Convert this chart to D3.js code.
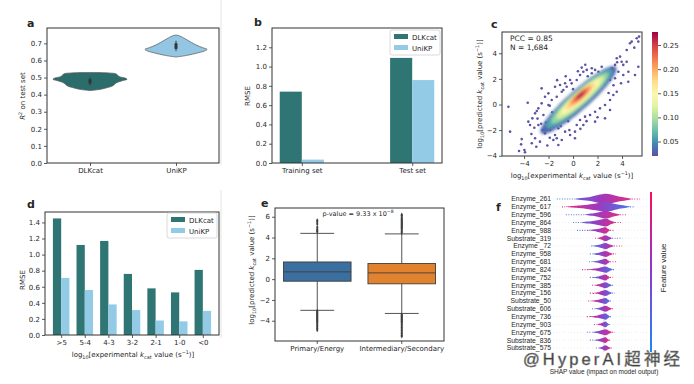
<!DOCTYPE html>
<meta charset="utf-8">
<style>
  body { margin: 0; background: #fff; }
  svg text { font-family: "DejaVu Sans", sans-serif; fill: #262626; }
</style>
<svg id="fig" width="694" height="384"></svg>
<script src="https://cdn.jsdelivr.net/npm/d3@7"></script>
<script>
// ---- panel a : R2 on test set (violins) ----
const modelNames = ["DLKcat", "UniKP"];
const violinDLKcat = [[0.424,0],[0.43,0.25],[0.44,0.45],[0.45,0.6],[0.46,0.66],[0.47,0.72],[0.48,0.85],[0.49,1.0],[0.497,0.95],[0.505,0.8],[0.515,0.74],[0.522,0.7],[0.527,0.5],[0.529,0]];
const violinUniKP = [[0.62,0],[0.63,0.3],[0.645,0.6],[0.658,0.8],[0.665,0.84],[0.675,0.72],[0.69,0.55],[0.705,0.42],[0.72,0.3],[0.735,0.18],[0.745,0.08],[0.749,0]];
const r2Whisker = [[0.455, 0.5], [0.655, 0.715]];
const r2Box = [[0.465, 0.49], [0.668, 0.70]];
const r2Ticks = [0, 0.1, 0.2, 0.3, 0.4, 0.5, 0.6, 0.7];

// ---- panel b : RMSE train / test ----
const splitNames = ["Training set", "Test set"];
const rmseDLKcat = [0.74, 1.09];
const rmseUniKP = [0.035, 0.86];
const rmseTicks = [0, 0.2, 0.4, 0.6, 0.8, 1.0, 1.2];

// ---- panel c : predicted vs experimental (sparse points + density core) ----
const sparsePoints = [
  [-5.28,-0.17],[-5.14,-2.12],[-4.41,-3.63],[-3.97,-3.55],[-3.92,-3.73],[-4.19,-2.7],[-4.24,-3.11],
  [-3.65,-1.34],[-3.7,0.14],[-3.37,-3.03],[-3.1,-2.64],[-3.16,-1.81],[-2.83,-1.6],[-2.96,-0.51],
  [-2.56,1.26],[-2.42,-0.82],[-2.29,-2.25],[-2.01,-0.04],[-1.61,-2.77],[-1.33,-2.64],[-1.2,-3.16],
  [-1.2,-1.86],[-0.92,1.0],[-0.65,1.66],[-0.24,1.91],[0.16,-2.64],[0.71,2.88],[0.84,-1.6],
  [1.53,2.44],[1.8,-1.34],[2.34,2.95],[2.61,-1.08],[3.02,-0.43],[3.43,2.05],[3.57,3.61],
  [3.84,3.74],[3.97,3.34],[4.1,3.09],[3.92,1.66],[4.38,4.26],[4.79,4.91],[5.2,5.17],[5.39,5.3],
  [5.0,4.44],[4.65,4.78],[5.33,4.91],[4.51,1.78],[5.06,2.3],[5.33,2.95],
  [-1.47,1.39],[-1.06,1.52],[-0.79,1.13],[-0.52,1.39],[-0.11,1.65],[0.3,1.91],[0.57,2.3],
  [0.84,2.56],[1.12,2.7],[1.53,2.83],[1.8,2.7],[2.07,2.56],[-1.33,0.61],[-1.74,0.35],
  [-2.01,0.87],[-2.29,0.61],[-2.56,0.09],[-2.83,-0.3],[-3.1,-0.69],[-3.32,-1.08],[-3.51,-1.6],
  [0.3,-1.6],[0.57,-1.21],[0.98,-0.95],[1.39,-0.82],[1.8,-0.56],[2.2,-0.3],[2.61,-0.04],
  [3.02,0.35],[3.29,0.74],[3.57,1.0],[0.16,-2.12],[-0.24,-2.38],[-0.65,-2.12],[-0.92,-2.77],
  [-1.47,-2.38],[-1.88,-1.99],[3.16,2.83],[3.43,3.09],[3.7,2.56],[4.1,2.3],[4.38,3.34],
  [4.52,2.56],[3.02,1.91],[-2.7,-2.9],[-2.2,-1.4],[-1.7,-0.6],[-1.0,-1.7],[-0.4,-1.3],
  [0.0,1.2],[-1.9,-0.1],[1.2,2.2],[2.5,1.6],[2.9,2.2],[-3.4,-2.3],[-2.5,-2.0],[3.6,3.3],
  [-1.3,1.9],[-0.6,2.2],[0.4,2.6],[1.0,3.1],[-2.9,-1.1],[-2.6,-1.5],[-1.9,-2.6],[-0.3,-2.0],
  [1.1,-1.3],[2.0,-1.0],[2.9,0.9],[3.3,1.5],[-2.1,-3.2],[-3.0,-3.3],[0.6,-1.9],[-1.6,-1.1]
];
const densityLevels = [
  {density: 0.03, cx: 0.45, cy: 0.35, halfLen: 4.0, halfWidth: 0.8},
  {density: 0.06, cx: 0.5,  cy: 0.45, halfLen: 3.5, halfWidth: 0.66},
  {density: 0.09, cx: 0.55, cy: 0.5,  halfLen: 3.0, halfWidth: 0.56},
  {density: 0.12, cx: 0.6,  cy: 0.55, halfLen: 2.5, halfWidth: 0.47},
  {density: 0.15, cx: 0.6,  cy: 0.6,  halfLen: 2.0, halfWidth: 0.39},
  {density: 0.18, cx: 0.6,  cy: 0.65, halfLen: 1.55, halfWidth: 0.33},
  {density: 0.21, cx: 0.6,  cy: 0.7,  halfLen: 1.1, halfWidth: 0.27},
  {density: 0.24, cx: 0.6,  cy: 0.72, halfLen: 0.72, halfWidth: 0.2},
  {density: 0.27, cx: 0.6,  cy: 0.74, halfLen: 0.38, halfWidth: 0.12}
];
const densitySlope = 0.84;
const axisTicksC = [-4, -2, 0, 2, 4];
const densityTicks = [0.05, 0.10, 0.15, 0.20, 0.25];

// ---- panel d : RMSE per kcat bin ----
const kcatBins = [">5", "5-4", "4-3", "3-2", "2-1", "1-0", "<0"];
const binRmseDLKcat = [1.45, 1.12, 1.17, 0.76, 0.58, 0.53, 0.81];
const binRmseUniKP = [0.71, 0.56, 0.38, 0.31, 0.18, 0.17, 0.30];
const binTicks = [0, 0.2, 0.4, 0.6, 0.8, 1.0, 1.2, 1.4];

// ---- panel e : boxplots ----
const pathwayNames = ["Primary/Energy", "Intermediary/Secondary"];
const boxQ1 = [-0.2, -0.45];
const boxMedian = [0.7, 0.6];
const boxQ3 = [1.65, 1.5];
const whiskerLow = [-3.0, -3.3];
const whiskerHigh = [4.4, 4.35];
const fliersPrimary = [4.55,4.65,4.8,5.0,5.3,5.5,5.65,-3.05,-3.15,-3.25,-3.35,-3.45,-3.55,-3.65,-3.75,-3.85,-3.95,-4.05,-4.15,-4.3,-4.45,-4.6,-4.75,-4.9];
const fliersSecondary = [4.45,4.6,4.75,4.9,5.0,5.1,5.2,5.3,5.4,5.5,5.6,5.7,5.8,5.95,6.1,6.2,-3.4,-3.5,-3.6,-3.7,-3.8,-3.9,-4.0,-4.1,-4.2,-4.35,-4.5,-4.65,-4.8,-4.95,-5.1,-5.25,-5.4,-5.5];
const boxTicks = [-4, -2, 0, 2, 4, 6];

// ---- panel f : SHAP summary ----
const shapFeatures = ["Enzyme_261","Enzyme_617","Enzyme_596","Enzyme_864","Enzyme_988","Substrate_319","Enzyme _72","Enzyme_958","Enzyme_681","Enzyme_824","Enzyme_752","Enzyme_385","Enzyme_156","Substrate_50","Substrate_606","Enzyme_736","Enzyme_903","Enzyme_675","Substrate_836","Substrate_575"];
const shapMin =       [-1.57,-1.40,-1.27,-1.03,-0.90,-0.30,-0.43,-0.47,-0.50,-0.73,-0.47,-0.40,-0.47,-0.53,-0.40,-0.57,-0.33,-0.57,-0.47,-0.27];
const shapDenseLow =  [-0.97,-1.30,-0.63,-0.80,-0.53,-0.23,-0.40,-0.40,-0.40,-0.53,-0.37,-0.33,-0.37,-0.43,-0.30,-0.47,-0.23,-0.40,-0.33,-0.20];
const shapDenseHigh = [0.93, 0.87, 0.53, 0.37, 0.20, 0.27, 0.33, 0.30, 0.20, 0.30, 0.20, 0.27, 0.27, 0.20, 0.27, 0.20, 0.17, 0.27, 0.17, 0.23];
const shapMax =       [1.20, 1.03, 0.77, 0.60, 0.33, 0.60, 0.60, 0.40, 0.43, 0.37, 0.30, 0.33, 0.37, 0.27, 0.33, 0.27, 0.23, 0.37, 0.23, 0.30];
const shapSpread =    [1.0, 0.9, 0.75, 0.75, 0.62, 0.58, 0.6, 0.58, 0.58, 0.6, 0.58, 0.58, 0.58, 0.58, 0.58, 0.58, 0.55, 0.58, 0.55, 0.52];
const highValueRight = [1,0,1,1,1,0,1,1,1,0,1,0,0,0,1,0,0,1,1,1];

// ---------------------------------------------------------------
const svg = d3.select("#fig");
svg.append("rect").attr("width", 694).attr("height", 384).attr("fill", "#fff");
const defs = svg.append("defs");

const cDLK = "#2e7573", cUni = "#93cbe6";
const ink = "#333";

function styleAxis(g) {
  g.select(".domain").remove();
  g.selectAll(".tick line").attr("stroke", ink).attr("stroke-width", 0.8);
  g.selectAll(".tick text").attr("fill", ink).style("font-size", "7px");
}
function frame(p) {
  svg.append("rect").attr("x", p.l).attr("y", p.t).attr("width", p.r - p.l).attr("height", p.b - p.t)
    .attr("fill", "none").attr("stroke", ink).attr("stroke-width", 1);
}
function letter(t, x, y) {
  svg.append("text").attr("x", x).attr("y", y).text(t)
    .style("font-size", "11px").style("font-weight", "bold").attr("fill", "#111");
}
// rich text with sub / super / italic parts
function rich(sel, parts, size) {
  let shift = 0;
  parts.forEach(([s, kind]) => {
    let target = kind === "sub" ? size * 0.3 : kind === "sup" ? -size * 0.4 : 0;
    const ts = sel.append("tspan").text(s).attr("dy", target - shift);
    if (kind === "sub" || kind === "sup") ts.style("font-size", (size * 0.7) + "px");
    if (kind === "it") ts.style("font-style", "italic");
    shift = target;
  });
}
function kcatParts(word) {
  return [["log"], ["10", "sub"], ["[" + word + " "], ["k", "it"], ["cat", "sub"], [" value (s"], ["−1", "sup"], [")]"]];
}
function yLabel(x, y) {
  return svg.append("text").attr("transform", `translate(${x},${y}) rotate(-90)`)
    .attr("text-anchor", "middle").style("font-size", "7px").attr("fill", ink);
}
function legend(x, y) {
  const g = svg.append("g").attr("transform", `translate(${x},${y})`);
  g.append("rect").attr("width", 50).attr("height", 25).attr("rx", 2)
    .attr("fill", "#fff").attr("stroke", "#d0d0d0").attr("stroke-width", 0.8);
  [["DLKcat", cDLK], ["UniKP", cUni]].forEach(([n, c], i) => {
    g.append("rect").attr("x", 4).attr("y", 4 + i * 11).attr("width", 14).attr("height", 5).attr("fill", c);
    g.append("text").attr("x", 22).attr("y", 9.5 + i * 11).text(n).style("font-size", "7px").attr("fill", ink);
  });
}

// faint sub-image borders
[[221, 0, 165], [221, 190, 338]].forEach(([x, y1, y2]) =>
  svg.append("line").attr("x1", x).attr("x2", x).attr("y1", y1).attr("y2", y2).attr("stroke", "#e4e4e4"));

// ================= panel a =================
{
  const p = {l: 47, r: 219, t: 28, b: 163};
  const x = d3.scalePoint().domain(modelNames).range([p.l, p.r]).padding(0.5);
  const y = d3.scaleLinear().domain([0, 0.79]).range([p.b, p.t]);
  const w = d3.scaleLinear().domain([0, 1]).range([0, 37]);
  [violinDLKcat, violinUniKP].forEach((v, i) => {
    const cx = x(modelNames[i]);
    svg.append("path").datum(v)
      .attr("d", d3.area().y(d => y(d[0])).x0(d => cx - w(d[1])).x1(d => cx + w(d[1])).curve(d3.curveCatmullRom))
      .attr("fill", i ? "#92c6e2" : "#2b6d6b").attr("stroke", "#555").attr("stroke-width", 0.7);
    svg.append("line").attr("x1", cx).attr("x2", cx).attr("y1", y(r2Whisker[i][0])).attr("y2", y(r2Whisker[i][1]))
      .attr("stroke", "#333").attr("stroke-width", 1);
    svg.append("line").attr("x1", cx).attr("x2", cx).attr("y1", y(r2Box[i][0])).attr("y2", y(r2Box[i][1]))
      .attr("stroke", "#333").attr("stroke-width", 3);
  });
  svg.append("g").attr("transform", `translate(${p.l},0)`)
    .call(d3.axisLeft(y).tickValues(r2Ticks).tickSize(3).tickPadding(2).tickFormat(d3.format(".1f"))).call(styleAxis);
  svg.append("g").attr("transform", `translate(0,${p.b})`)
    .call(d3.axisBottom(x).tickSize(3).tickPadding(2)).call(styleAxis);
  frame(p);
  const t = yLabel(25, 96);
  rich(t, [["R", "it"], ["2", "sup"], [" on test set"]], 7);
  letter("a", 27, 27);
}

// ================= panel b =================
{
  const p = {l: 272, r: 442, t: 28, b: 163};
  const x = d3.scaleLinear().domain([-0.27, 1.27]).range([p.l, p.r]);
  const y = d3.scaleLinear().domain([0, 1.4]).range([p.b, p.t]);
  const bw = 0.2;
  splitNames.forEach((s, i) => {
    svg.append("rect").attr("x", x(i - bw)).attr("width", x(bw) - x(0)).attr("y", y(rmseDLKcat[i]))
      .attr("height", y(0) - y(rmseDLKcat[i])).attr("fill", cDLK);
    svg.append("rect").attr("x", x(i)).attr("width", x(bw) - x(0)).attr("y", y(rmseUniKP[i]))
      .attr("height", y(0) - y(rmseUniKP[i])).attr("fill", cUni);
  });
  svg.append("g").attr("transform", `translate(${p.l},0)`)
    .call(d3.axisLeft(y).tickValues(rmseTicks).tickSize(3).tickPadding(2).tickFormat(d3.format(".1f"))).call(styleAxis);
  svg.append("g").attr("transform", `translate(0,${p.b})`)
    .call(d3.axisBottom(x).tickValues([0, 1]).tickSize(3).tickPadding(2).tickFormat(i => splitNames[i])).call(styleAxis);
  frame(p);
  yLabel(250, 96).text("RMSE");
  legend(390, 30);
  letter("b", 254, 26);
}

// ================= panel c =================
{
  const p = {l: 502, r: 642, t: 32, b: 156};
  const x = d3.scaleLinear().domain([-5.8, 5.63]).range([p.l, p.r]);
  const y = d3.scaleLinear().domain([-4.02, 5.66]).range([p.b, p.t]);
  const cscale = d3.scaleLinear().domain([0.02, 0.277]).range([0, 1]);
  const cmap = d => d3.interpolateSpectral(1 - cscale(d));
  defs.append("clipPath").attr("id", "clipc").append("rect")
    .attr("x", p.l).attr("y", p.t).attr("width", p.r - p.l).attr("height", p.b - p.t);
  defs.append("filter").attr("id", "soft").attr("x", "-20%").attr("y", "-20%").attr("width", "140%").attr("height", "140%")
    .append("feGaussianBlur").attr("stdDeviation", 1.4);
  const g = svg.append("g").attr("clip-path", "url(#clipc)");
  g.selectAll("circle").data(sparsePoints).join("circle")
    .attr("cx", d => x(d[0])).attr("cy", d => y(d[1])).attr("r", 1.3).attr("fill", cmap(0.022));
  const ang = Math.atan(densitySlope), ux = Math.cos(ang), uy = Math.sin(ang);
  const core = g.append("g").attr("filter", "url(#soft)");
  densityLevels.forEach(lv => {
    const pts = d3.range(0, 64).map(k => {
      const a = k / 64 * 2 * Math.PI;
      const s = Math.cos(a) * lv.halfLen, q = Math.sin(a) * lv.halfWidth;
      return [x(lv.cx + s * ux - q * uy), y(lv.cy + s * uy + q * ux)];
    });
    core.append("path").attr("d", d3.line().curve(d3.curveCardinalClosed)(pts)).attr("fill", cmap(lv.density));
  });
  svg.append("g").attr("transform", `translate(${p.l},0)`)
    .call(d3.axisLeft(y).tickValues(axisTicksC).tickSize(3).tickPadding(2)).call(styleAxis);
  svg.append("g").attr("transform", `translate(0,${p.b})`)
    .call(d3.axisBottom(x).tickValues(axisTicksC).tickSize(3).tickPadding(2)).call(styleAxis);
  frame(p);
  svg.append("text").attr("x", 510).attr("y", 41).text("PCC = 0.85").style("font-size", "7.5px");
  svg.append("text").attr("x", 510).attr("y", 50).text("N = 1,684").style("font-size", "7.5px");
  rich(yLabel(482, 94), kcatParts("predicted"), 7);
  rich(svg.append("text").attr("x", 572).attr("y", 178).attr("text-anchor", "middle").style("font-size", "7px"),
    kcatParts("experimental"), 7);
  // colour bar
  const cb = {x: 652, w: 6, t: 32, b: 156};
  const grad = defs.append("linearGradient").attr("id", "spec").attr("x1", 0).attr("x2", 0).attr("y1", 1).attr("y2", 0);
  d3.range(0, 1.001, 0.1).forEach(t => grad.append("stop").attr("offset", t).attr("stop-color", d3.interpolateSpectral(1 - t)));
  svg.append("rect").attr("x", cb.x).attr("y", cb.t).attr("width", cb.w).attr("height", cb.b - cb.t).attr("fill", "url(#spec)");
  const cy = d3.scaleLinear().domain([0.02, 0.277]).range([cb.b, cb.t]);
  svg.append("g").attr("transform", `translate(${cb.x + cb.w},0)`)
    .call(d3.axisRight(cy).tickValues(densityTicks).tickSize(3).tickPadding(2).tickFormat(d3.format(".2f"))).call(styleAxis);
  letter("c", 491, 28);
}

// ================= panel d =================
{
  const p = {l: 45, r: 219, t: 212, b: 335};
  const x = d3.scaleLinear().domain([-0.685, 6.685]).range([p.l, p.r]);
  const y = d3.scaleLinear().domain([0, 1.53]).range([p.b, p.t]);
  const bw = 0.35;
  kcatBins.forEach((k, i) => {
    svg.append("rect").attr("x", x(i - bw)).attr("width", x(bw) - x(0)).attr("y", y(binRmseDLKcat[i]))
      .attr("height", y(0) - y(binRmseDLKcat[i])).attr("fill", cDLK);
    svg.append("rect").attr("x", x(i)).attr("width", x(bw) - x(0)).attr("y", y(binRmseUniKP[i]))
      .attr("height", y(0) - y(binRmseUniKP[i])).attr("fill", cUni);
  });
  svg.append("g").attr("transform", `translate(${p.l},0)`)
    .call(d3.axisLeft(y).tickValues(binTicks).tickSize(3).tickPadding(2).tickFormat(d3.format(".1f"))).call(styleAxis);
  svg.append("g").attr("transform", `translate(0,${p.b})`)
    .call(d3.axisBottom(x).tickValues(d3.range(kcatBins.length)).tickSize(3).tickPadding(2).tickFormat(i => kcatBins[i])).call(styleAxis);
  frame(p);
  yLabel(25, 280).text("RMSE");
  rich(svg.append("text").attr("x", 133).attr("y", 357).attr("text-anchor", "middle").style("font-size", "7px"),
    kcatParts("experimental"), 7);
  legend(167, 213);
  letter("d", 27, 208);
}

// ================= panel e =================
{
  const p = {l: 275, r: 444, t: 208, b: 341};
  const x = d3.scaleBand().domain(pathwayNames).range([p.l, p.r]);
  const y = d3.scaleLinear().domain([-5.95, 6.84]).range([p.b, p.t]);
  const bw = x.bandwidth() * 0.8;
  const boxColors = ["#3a6fa0", "#e0822e"];
  const edge = "#3f3f3f";
  [fliersPrimary, fliersSecondary].forEach((fl, i) => {
    const cx = x(pathwayNames[i]) + x.bandwidth() / 2;
    const line = (x1, x2, y1, y2) => svg.append("line").attr("x1", x1).attr("x2", x2).attr("y1", y1).attr("y2", y2)
      .attr("stroke", edge).attr("stroke-width", 0.9);
    line(cx, cx, y(whiskerHigh[i]), y(boxQ3[i]));
    line(cx, cx, y(whiskerLow[i]), y(boxQ1[i]));
    line(cx - bw / 4, cx + bw / 4, y(whiskerHigh[i]), y(whiskerHigh[i]));
    line(cx - bw / 4, cx + bw / 4, y(whiskerLow[i]), y(whiskerLow[i]));
    svg.append("rect").attr("x", cx - bw / 2).attr("width", bw).attr("y", y(boxQ3[i]))
      .attr("height", y(boxQ1[i]) - y(boxQ3[i])).attr("fill", boxColors[i]).attr("stroke", edge).attr("stroke-width", 0.9);
    line(cx - bw / 2, cx + bw / 2, y(boxMedian[i]), y(boxMedian[i]));
    svg.selectAll(null).data(fl).join("path")
      .attr("d", d3.symbol(d3.symbolDiamond, 5))
      .attr("transform", d => `translate(${cx},${y(d)})`).attr("fill", edge);
  });
  svg.append("g").attr("transform", `translate(${p.l},0)`)
    .call(d3.axisLeft(y).tickValues(boxTicks).tickSize(3).tickPadding(2)).call(styleAxis);
  svg.append("g").attr("transform", `translate(0,${p.b})`)
    .call(d3.axisBottom(x).tickSize(3).tickPadding(2)).call(styleAxis);
  frame(p);
  rich(svg.append("text").attr("x", 358).attr("y", 216).attr("text-anchor", "middle").style("font-size", "6.5px"),
    [["p-value = 9.33 x 10"], ["−8", "sup"]], 6.5);
  rich(yLabel(254, 270), kcatParts("predicted"), 7);
  letter("e", 261, 207);
}

// ================= panel f =================
{
  const x = d3.scaleLinear().domain([-1.6, 1.2]).range([556, 640]);
  const y = d3.scalePoint().domain(shapFeatures).range([199, 348]);
  const th = d3.scaleLinear().domain([0, 1]).range([0, 5.2]);
  const pink = "#f0287a", blue = "#3d7ff0", purple = "#9a3bbf";
  defs.append("filter").attr("id", "fuzz").append("feGaussianBlur").attr("stdDeviation", 0.35);
  // row guide lines and zero line
  shapFeatures.forEach(f => svg.append("line").attr("x1", 553).attr("x2", 648).attr("y1", y(f)).attr("y2", y(f))
    .attr("stroke", "#e3e3e3").attr("stroke-width", 0.6).attr("stroke-dasharray", "1,2"));
  svg.append("line").attr("x1", x(0)).attr("x2", x(0)).attr("y1", 193).attr("y2", 352).attr("stroke", "#c8c8c8").attr("stroke-width", 0.8);
  const rows = svg.append("g").attr("filter", "url(#fuzz)");
  shapFeatures.forEach((f, i) => {
    const yc = y(f);
    const left = highValueRight[i] ? blue : pink, right = highValueRight[i] ? pink : blue;
    const gid = "shap" + i;
    const gr = defs.append("linearGradient").attr("id", gid).attr("gradientUnits", "userSpaceOnUse")
      .attr("x1", x(shapMin[i])).attr("x2", x(shapMax[i])).attr("y1", 0).attr("y2", 0);
    gr.append("stop").attr("offset", 0).attr("stop-color", left);
    gr.append("stop").attr("offset", 0.5).attr("stop-color", purple);
    gr.append("stop").attr("offset", 1).attr("stop-color", right);
    const t = th(shapSpread[i]);
    // sparse tails
    rows.append("line").attr("x1", x(shapMin[i])).attr("x2", x(shapDenseLow[i])).attr("y1", yc).attr("y2", yc)
      .attr("stroke", `url(#${gid})`).attr("stroke-width", 1.1).attr("stroke-dasharray", "0.9,1.6");
    rows.append("line").attr("x1", x(shapDenseHigh[i])).attr("x2", x(shapMax[i])).attr("y1", yc).attr("y2", yc)
      .attr("stroke", `url(#${gid})`).attr("stroke-width", 1.1).attr("stroke-dasharray", "0.9,1.6");
    // dense body
    const lo = x(shapDenseLow[i]), hi = x(shapDenseHigh[i]), pk = x(0.05);
    const body = [[lo, yc], [(lo + pk) / 2, yc - t * 0.4], [pk, yc - t], [(hi + pk) / 2, yc - t * 0.5], [hi, yc],
      [(hi + pk) / 2, yc + t * 0.5], [pk, yc + t], [(lo + pk) / 2, yc + t * 0.4]];
    rows.append("path").attr("d", d3.line().curve(d3.curveCardinalClosed.tension(0.2))(body)).attr("fill", `url(#${gid})`);
  });
  svg.selectAll(null).data(shapFeatures).join("text")
    .attr("x", 551).attr("y", d => y(d)).attr("dy", "0.35em").attr("text-anchor", "end")
    .style("font-family", "'Liberation Sans', Arial, sans-serif").style("font-size", "6.8px").attr("fill", "#333")
    .text(d => d);
  const fg = defs.append("linearGradient").attr("id", "featgrad").attr("x1", 0).attr("x2", 0).attr("y1", 0).attr("y2", 1);
  fg.append("stop").attr("offset", 0).attr("stop-color", "#ff0d57");
  fg.append("stop").attr("offset", 0.5).attr("stop-color", "#8a3ad0");
  fg.append("stop").attr("offset", 1).attr("stop-color", "#1e88fb");
  svg.append("rect").attr("x", 650).attr("y", 192).attr("width", 2).attr("height", 160).attr("fill", "url(#featgrad)");
  svg.append("text").attr("transform", "translate(666,268) rotate(-90)").attr("text-anchor", "middle")
    .style("font-family", "'Liberation Sans', Arial, sans-serif").style("font-size", "8px").text("Feature value");
  svg.append("text").attr("x", 604).attr("y", 374).attr("text-anchor", "middle")
    .style("font-family", "'Liberation Sans', Arial, sans-serif").style("font-size", "6.5px").attr("fill", "#333")
    .text("SHAP value (impact on model output)");
  letter("f", 496, 211);
  // watermark
  svg.append("text").attr("x", 523).attr("y", 365)
    .attr("textLength", 157).attr("lengthAdjust", "spacing")
    .style("font-family", "'Liberation Sans', 'Noto Sans CJK SC', sans-serif").style("font-size", "16.5px")
    .attr("fill", "rgba(255,255,255,0.85)").attr("stroke", "#8a8a8a").attr("stroke-width", 0.6)
    .text("@HyperAI超神经");
}
</script>
